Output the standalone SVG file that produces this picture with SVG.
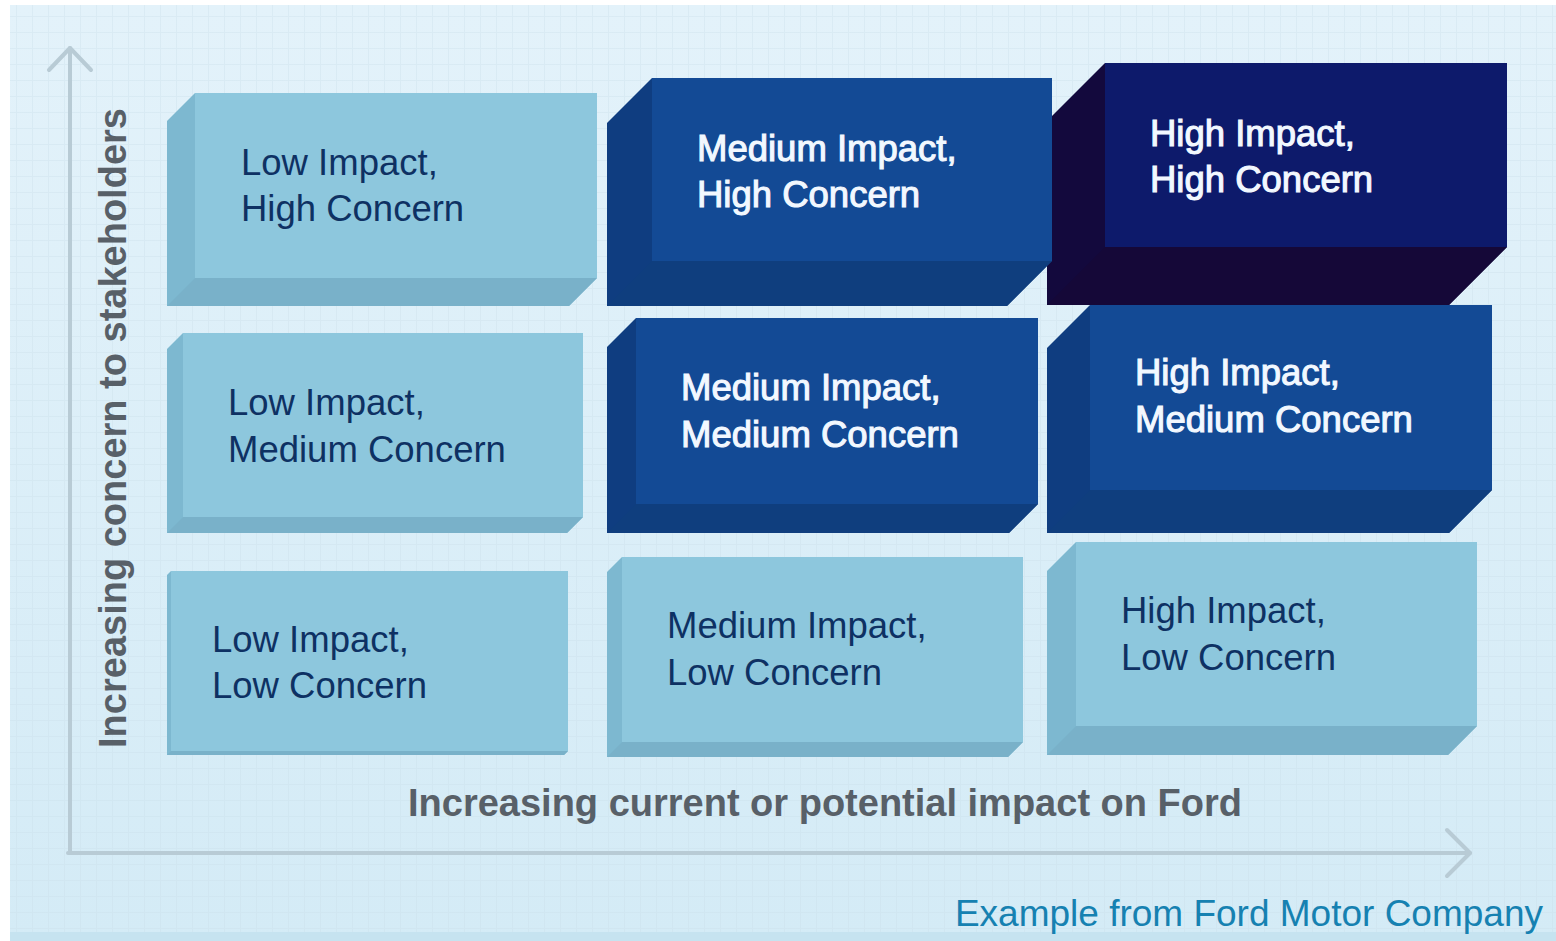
<svg xmlns="http://www.w3.org/2000/svg" width="1556" height="941" viewBox="0 0 1556 941">
<style>
.lt-side{fill:#7DB8D0}
.lt-bot{fill:#79B1C9}
.lt-front{fill:#8DC7DD}
.md-side{fill:#0F3D80}
.md-bot{fill:#0F3E7E}
.md-front{fill:#134A95}
.dk-side{fill:#13093D}
.dk-bot{fill:#150838}
.dk-front{fill:#0D1A6B}
.tl{font-family:"Liberation Sans",Arial,sans-serif;font-size:36.5px;fill:#0E3163}
.tw{font-family:"Liberation Sans",Arial,sans-serif;font-size:36.5px;fill:#F2F8FF;stroke:#F2F8FF;stroke-width:1.1}
.axl{font-family:"Liberation Sans",Arial,sans-serif;font-size:38px;font-weight:bold;fill:#586068}
.axis{fill:none;stroke:#B8CBD5;stroke-width:4;stroke-linecap:round;stroke-linejoin:round}
</style>
<defs>
<linearGradient id="bg" x1="0" y1="0" x2="0" y2="1">
<stop offset="0" stop-color="#E3F2FA"/>
<stop offset="1" stop-color="#D4EBF6"/>
</linearGradient>
<pattern id="grid" width="16" height="16" patternUnits="userSpaceOnUse">
<path d="M0 0.5H16M0.5 0V16" stroke="#C8DDE8" stroke-width="1" opacity="0.35"/>
</pattern>
</defs>
<rect x="0" y="0" width="1556" height="941" fill="#FFFFFF"/>
<rect x="10" y="5" width="1546" height="936" fill="url(#bg)"/>
<rect x="10" y="5" width="1546" height="936" fill="url(#grid)"/>
<rect x="10" y="932" width="1546" height="9" fill="#C6E3F0"/>

<g id="connectors">
<polyline class="axis" points="70,853 70,48"/>
<polyline class="axis" points="49,70 70,48 91,70"/>
<polyline class="axis" points="68,853 1470,853"/>
<polyline class="axis" points="1447,830 1470,853 1447,876"/>
</g>

<g id="axis-labels">
<text class="axl" transform="translate(126,428) rotate(-90)" text-anchor="middle">Increasing concern to stakeholders</text>
<text class="axl" x="825" y="816" text-anchor="middle">Increasing current or potential impact on Ford</text>
</g>

<g id="high-impact-high-concern">
<polygon class="dk-side" points="1047,121 1105,63 1507,63 1507,247 1449,305 1047,305"/>
<polygon class="dk-bot" points="1105,247 1507,247 1449,305 1047,305"/>
<rect class="dk-front" x="1105" y="63" width="402" height="184"/>
<text class="tw" x="1150" y="146">High Impact,</text>
<text class="tw" x="1150" y="192">High Concern</text>
</g>

<g id="medium-impact-high-concern">
<polygon class="md-side" points="607,123 652,78 1052,78 1052,261 1007,306 607,306"/>
<polygon class="md-bot" points="652,261 1052,261 1007,306 607,306"/>
<rect class="md-front" x="652" y="78" width="400" height="183"/>
<text class="tw" x="697" y="161">Medium Impact,</text>
<text class="tw" x="697" y="207">High Concern</text>
</g>

<g id="low-impact-high-concern">
<polygon class="lt-side" points="167,121 195,93 597,93 597,278 569,306 167,306"/>
<polygon class="lt-bot" points="195,278 597,278 569,306 167,306"/>
<rect class="lt-front" x="195" y="93" width="402" height="185"/>
<text class="tl" x="241" y="175">Low Impact,</text>
<text class="tl" x="241" y="221">High Concern</text>
</g>

<g id="high-impact-medium-concern">
<polygon class="md-side" points="1047,348 1090,305 1492,305 1492,490 1449,533 1047,533"/>
<polygon class="md-bot" points="1090,490 1492,490 1449,533 1047,533"/>
<rect class="md-front" x="1090" y="305" width="402" height="185"/>
<text class="tw" x="1135" y="385">High Impact,</text>
<text class="tw" x="1135" y="432">Medium Concern</text>
</g>

<g id="medium-impact-medium-concern">
<polygon class="md-side" points="607,347 636,318 1038,318 1038,504 1009,533 607,533"/>
<polygon class="md-bot" points="636,504 1038,504 1009,533 607,533"/>
<rect class="md-front" x="636" y="318" width="402" height="186"/>
<text class="tw" x="681" y="400">Medium Impact,</text>
<text class="tw" x="681" y="447">Medium Concern</text>
</g>

<g id="low-impact-medium-concern">
<polygon class="lt-side" points="167,349 183,333 583,333 583,517 567,533 167,533"/>
<polygon class="lt-bot" points="183,517 583,517 567,533 167,533"/>
<rect class="lt-front" x="183" y="333" width="400" height="184"/>
<text class="tl" x="228" y="415">Low Impact,</text>
<text class="tl" x="228" y="462">Medium Concern</text>
</g>

<g id="high-impact-low-concern">
<polygon class="lt-side" points="1047,571 1076,542 1477,542 1477,726 1448,755 1047,755"/>
<polygon class="lt-bot" points="1076,726 1477,726 1448,755 1047,755"/>
<rect class="lt-front" x="1076" y="542" width="401" height="184"/>
<text class="tl" x="1121" y="623">High Impact,</text>
<text class="tl" x="1121" y="670">Low Concern</text>
</g>

<g id="medium-impact-low-concern">
<polygon class="lt-side" points="607,572 622,557 1023,557 1023,742 1008,757 607,757"/>
<polygon class="lt-bot" points="622,742 1023,742 1008,757 607,757"/>
<rect class="lt-front" x="622" y="557" width="401" height="185"/>
<text class="tl" x="667" y="638">Medium Impact,</text>
<text class="tl" x="667" y="685">Low Concern</text>
</g>

<g id="low-impact-low-concern">
<polygon class="lt-side" points="167,575 171,571 568,571 568,751 564,755 167,755"/>
<polygon class="lt-bot" points="171,751 568,751 564,755 167,755"/>
<rect class="lt-front" x="171" y="571" width="397" height="180"/>
<text class="tl" x="212" y="652">Low Impact,</text>
<text class="tl" x="212" y="698">Low Concern</text>
</g>

<text x="1543" y="926" text-anchor="end" font-family="'Liberation Sans', Arial, sans-serif" font-size="37" fill="#1681B1">Example from Ford Motor Company</text>
</svg>
